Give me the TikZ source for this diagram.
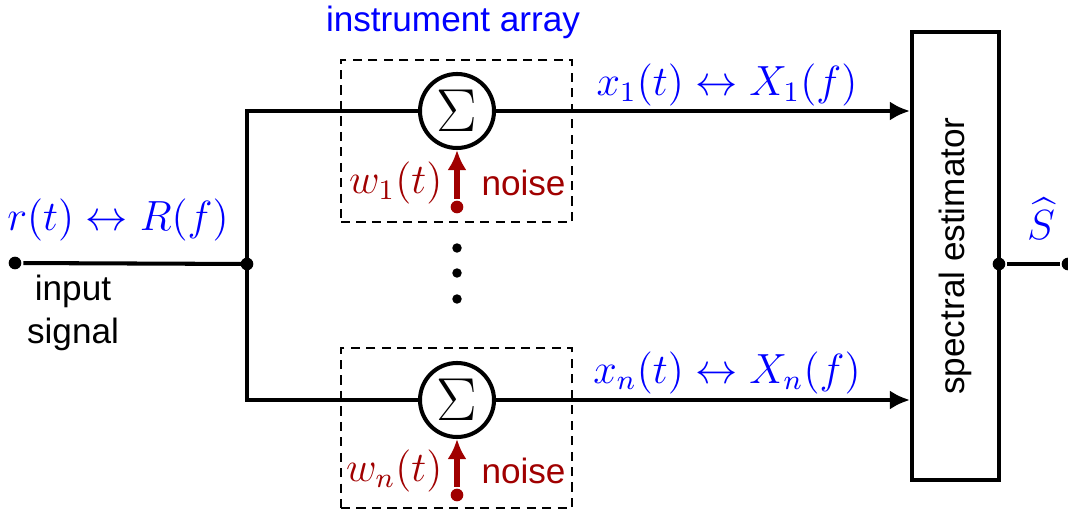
\documentclass[tikz,border=0pt]{standalone}
\usepackage[no-math]{fontspec}
\setmainfont{Liberation Sans}
\usepackage{amsmath}
\usetikzlibrary{arrows.meta,positioning}
\definecolor{noisered}{RGB}{160,0,0}

\begin{document}
\begin{tikzpicture}[
      line width=1.15pt,
      sumnode/.style={draw, circle, minimum size=0.74cm, inner sep=0pt, font=\LARGE},
      inst/.style={draw, line width=0.8pt, dash pattern=on 2.6pt off 1.8pt, minimum width=2.31cm},
      est/.style={draw, minimum width=0.87cm, minimum height=4.48cm, inner sep=0pt},
      dot/.style={circle, fill, inner sep=0pt, minimum size=3.6pt},
      arr/.style={-{Latex[length=2mm, width=1.9mm]}},
      sig/.style={text=blue, font=\large},
      nz/.style={text=noisered, font=\large}
    ]
      \useasboundingbox (0,0) rectangle (10.68,5.11);
      % input side
      \node[dot] (in) at (0.15,2.48) {};
      \coordinate (split) at (2.47,2.47);
      \node[sig] (rlabel) at (1.18,2.91) {$r(t) \leftrightarrow R(f)$};
      \node[align=center, inner sep=0pt] (intext) at (0.73,1.98) {input\\signal};
      % instrument array
      \node[inst, minimum height=1.62cm] (box1) at (4.565,3.70) {};
      \node[inst, minimum height=1.60cm] (boxn) at (4.565,0.83) {};
      \node[text=blue] (arrtext) at (4.53,4.89) {instrument array};
      \node[sumnode] (sum1) at (4.57,4.00) {$\Sigma$};
      \node[sumnode] (sumn) at (4.57,1.11) {$\Sigma$};
      \node[dot, noisered] (w1) at (4.57,3.04) {};
      \node[dot, noisered] (wn) at (4.57,0.16) {};
      \node[nz, anchor=east, inner sep=1pt] (w1lab) at (4.48,3.28) {$w_1(t)$};
      \node[text=noisered, anchor=west, inner sep=1pt] (nz1) at (4.76,3.28) {noise};
      \node[nz, anchor=east, inner sep=1pt] (wnlab) at (4.48,0.40) {$w_n(t)$};
      \node[text=noisered, anchor=west, inner sep=1pt] (nzn) at (4.76,0.40) {noise};
      \node[dot, minimum size=2.7pt] (d1) at (4.57,2.63) {};
      \node[dot, minimum size=2.7pt] (d2) at (4.57,2.38) {};
      \node[dot, minimum size=2.7pt] (d3) at (4.57,2.12) {};
      % estimator
      \node[est] (est) at (9.555,2.55) {};
      \node[rotate=90] (esttext) at (est.center) {spectral estimator};
      \node[sig] (x1lab) at (7.27,4.26) {$x_1(t) \leftrightarrow X_1(f)$};
      \node[sig] (xnlab) at (7.27,1.38) {$x_n(t) \leftrightarrow X_n(f)$};
      \node[dot] (outa) at (9.99,2.47) {};
      \node[dot] (outb) at (10.68,2.47) {};
      \node[sig] (shat) at (10.41,2.92) {$\widehat{S}$};
      % connections
      \draw (in) -- (split);
      \draw (split) |- (sum1);
      \draw (split) |- (sumn);
      \node[dot] (splitdot) at (split) {};
      \draw[arr] (sum1) -- (sum1 -| est.west);
      \draw[arr] (sumn) -- (sumn -| est.west);
      \draw[arr, noisered, line width=1.5pt] (w1) -- (sum1);
      \draw[arr, noisered, line width=1.5pt] (wn) -- (sumn);
      \draw (outa) -- (outb);
    \end{tikzpicture}
\end{document}
